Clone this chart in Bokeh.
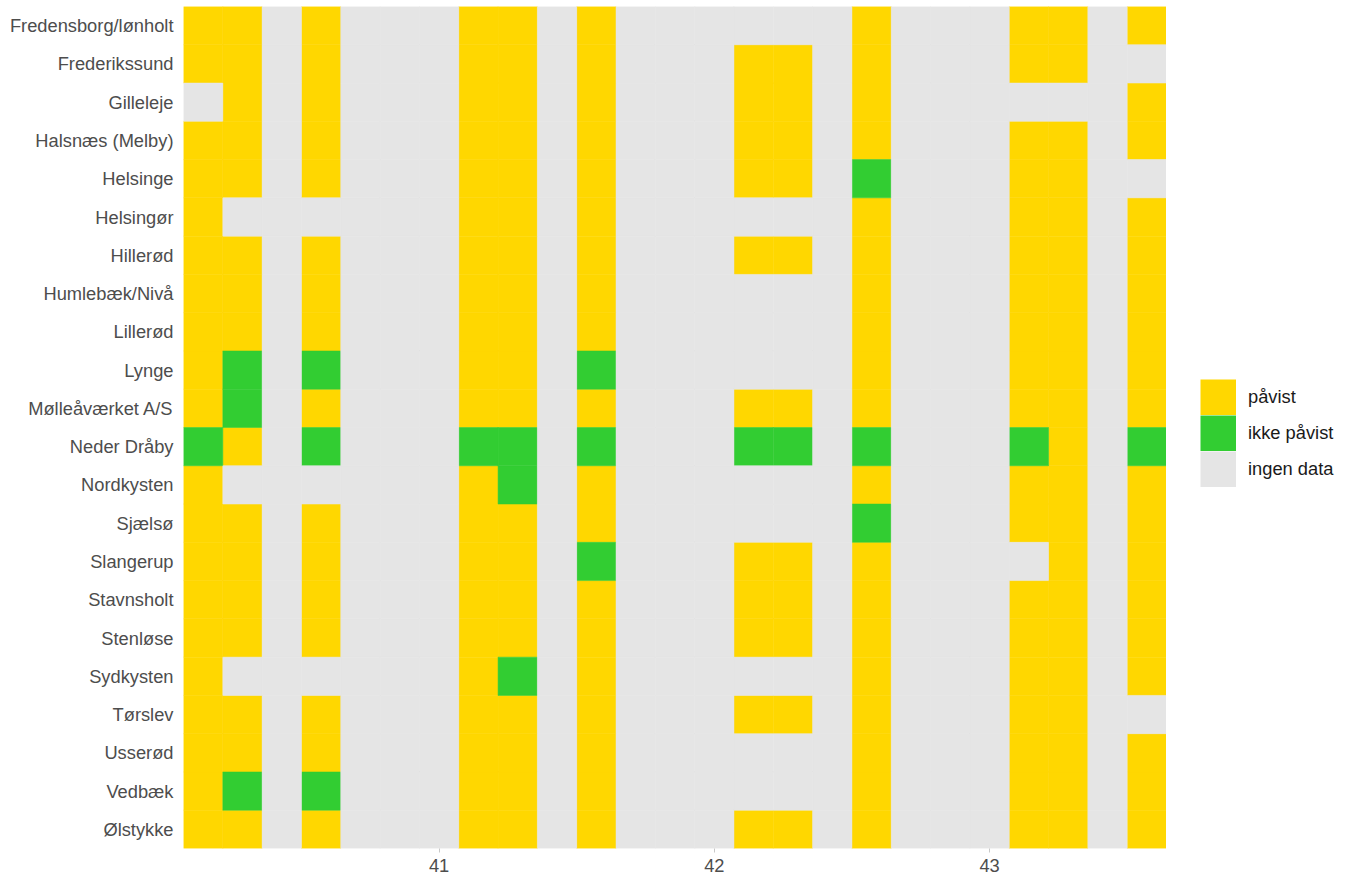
from bokeh.plotting import figure
from bokeh.layouts import row
from bokeh.models import ColumnDataSource, FactorRange, Range1d, FixedTicker, Legend, LegendItem
from bokeh.embed import file_html
from bokeh.resources import INLINE

# ---------------- data ----------------
sites = [
    "Fredensborg/lønholt", "Frederikssund", "Gilleleje", "Halsnæs (Melby)", "Helsinge",
    "Helsingør", "Hillerød", "Humlebæk/Nivå", "Lillerød", "Lynge", "Mølleåværket A/S",
    "Neder Dråby", "Nordkysten", "Sjælsø", "Slangerup", "Stavnsholt", "Stenløse",
    "Sydkysten", "Tørslev", "Usserød", "Vedbæk", "Ølstykke",
]

start_week = 40
days_per_week = 7
all_days = list(range(1, 26))                       # day index within period (x = week + day/7)
sample_days = [1, 2, 4, 8, 9, 11, 15, 16, 18, 22, 23, 25]

# P = påvist, I = ikke påvist, . = ingen data  (one code per sample day)
results = {
    "Fredensborg/lønholt": "PPPPPP..PPPP",
    "Frederikssund":       "PPPPPPPPPPP.",
    "Gilleleje":           ".PPPPPPPP..P",
    "Halsnæs (Melby)":     "PPPPPPPPPPPP",
    "Helsinge":            "PPPPPPPPIPP.",
    "Helsingør":           "P..PPP..PPPP",
    "Hillerød":            "PPPPPPPPPPPP",
    "Humlebæk/Nivå":       "PPPPPP..PPPP",
    "Lillerød":            "PPPPPP..PPPP",
    "Lynge":               "PIIPPI..PPPP",
    "Mølleåværket A/S":    "PIPPPPPPPPPP",
    "Neder Dråby":         "IPIIIIIIIIPI",
    "Nordkysten":          "P..PIP..PPPP",
    "Sjælsø":              "PPPPPP..IPPP",
    "Slangerup":           "PPPPPIPPP.PP",
    "Stavnsholt":          "PPPPPPPPPPPP",
    "Stenløse":            "PPPPPPPPPPPP",
    "Sydkysten":           "P..PIP..PPPP",
    "Tørslev":             "PPPPPPPPPPP.",
    "Usserød":             "PPPPPP..PPPP",
    "Vedbæk":              "PIIPPP..PPPP",
    "Ølstykke":            "PPPPPPPPPPPP",
}

status_labels = ["påvist", "ikke påvist", "ingen data"]
status_codes = ["P", "I", "."]
status_colors = ["#FFD700", "#32CD32", "#E5E5E5"]
tick_weeks = [41, 42, 43]

# ---------------- build cells ----------------
cells = {c: {"x": [], "y": []} for c in status_codes}
for site in sites:
    codes = results[site]
    for d in all_days:
        code = codes[sample_days.index(d)] if d in sample_days else "."
        cells[code]["x"].append(start_week + d / days_per_week)
        cells[code]["y"].append(site)

cell_w = 1 / days_per_week
x0 = start_week + (min(all_days) - 0.5) / days_per_week
x1 = start_week + (max(all_days) + 0.5) / days_per_week

FONT = "Liberation Sans"
FS = "18.3px"

p = figure(
    width=1166, height=879,
    x_range=Range1d(x0, x1),
    y_range=FactorRange(factors=sites[::-1], range_padding=0),
    output_backend="svg", toolbar_location=None,
    min_border_left=183, min_border_right=0, min_border_top=6, min_border_bottom=31,
)
p.outline_line_color = None
p.background_fill_color = "white"
p.xgrid.grid_line_color = None
p.ygrid.grid_line_color = None

for code, col in zip(status_codes, status_colors):
    src = ColumnDataSource(cells[code])
    p.rect(x="x", y="y", width=cell_w, height=1, source=src,
           fill_color=col, line_color=col, line_width=0.5)

# axes
p.xaxis.ticker = FixedTicker(ticks=tick_weeks)
p.xaxis.axis_line_color = None
p.xaxis.major_tick_in = 0
p.xaxis.major_tick_out = 4
p.xaxis.major_tick_line_color = "#C8C8C8"
p.xaxis.minor_tick_line_color = None
p.xaxis.major_label_text_font = FONT
p.xaxis.major_label_text_font_size = FS
p.xaxis.major_label_text_color = "#4D4D4D"
p.xaxis.major_label_standoff = 6

p.yaxis.axis_line_color = None
p.yaxis.major_tick_line_color = None
p.yaxis.major_tick_in = 0
p.yaxis.major_tick_out = 0
p.yaxis.minor_tick_line_color = None
p.yaxis.major_label_text_font = FONT
p.yaxis.major_label_text_font_size = FS
p.yaxis.major_label_text_color = "#4D4D4D"
p.yaxis.major_label_standoff = 10

# ---------------- legend panel ----------------
q = figure(
    width=184, height=879, x_axis_type=None, y_axis_type=None,
    x_range=Range1d(0, 1), y_range=Range1d(0, 1),
    output_backend="svg", toolbar_location=None,
    min_border_left=0, min_border_right=0, min_border_top=6, min_border_bottom=31,
)
q.outline_line_color = None
q.xgrid.grid_line_color = None
q.ygrid.grid_line_color = None

nan = float("nan")
legend_items = []
for lab, col in zip(status_labels, status_colors):
    # invisible swatch renderer (no drawable points), used only for the legend key
    key = q.line(x=[nan, nan], y=[nan, nan], line_color=col, line_width=36, line_cap="butt")
    legend_items.append(LegendItem(label=lab, renderers=[key]))

legend = Legend(
    items=legend_items,
    location=(34, 361),
    orientation="vertical",
    glyph_width=36, glyph_height=36, spacing=0, padding=0, margin=0,
    label_standoff=12, label_height=36,
    label_text_font=FONT, label_text_font_size=FS,
    label_text_color="#1A1A1A",
    border_line_color=None, background_fill_alpha=0,
)
q.add_layout(legend, "center")

layout = row(p, q, spacing=0)
open("out.html", "w").write(file_html(layout, INLINE))
